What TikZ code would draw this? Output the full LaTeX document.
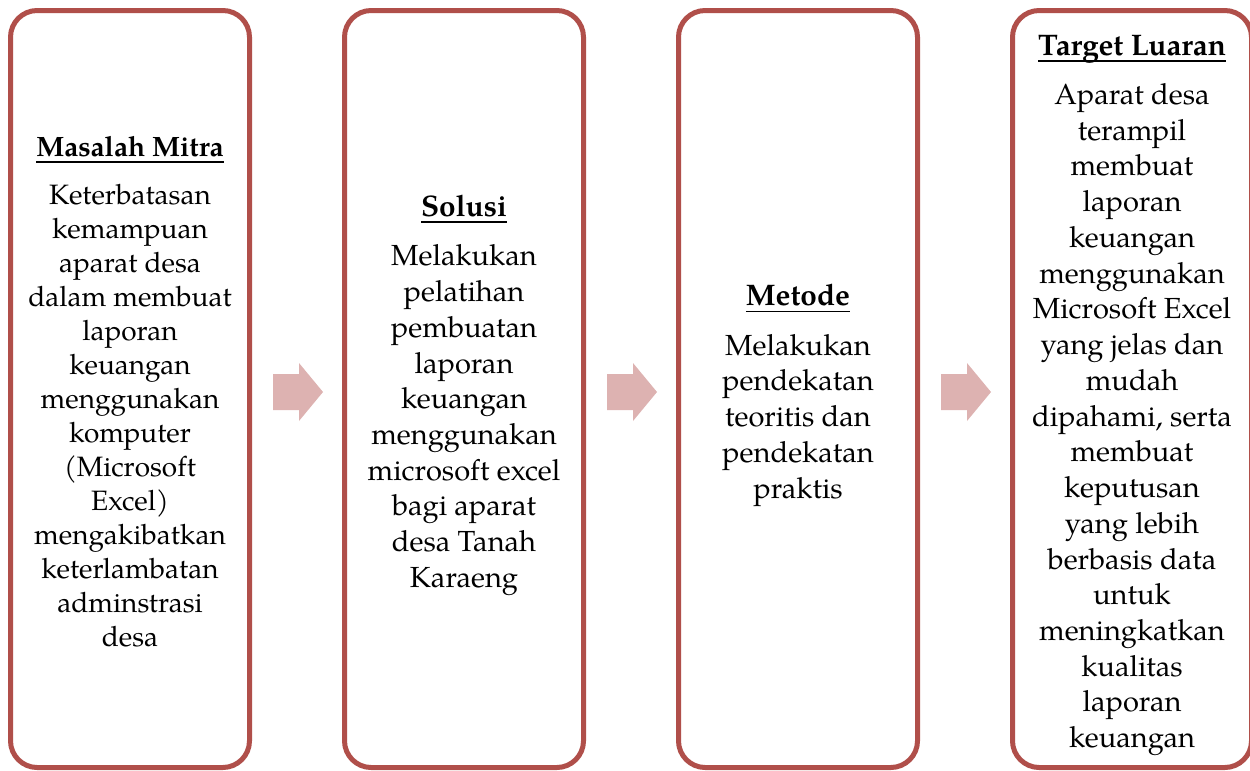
\documentclass[tikz,border=0pt]{standalone}
\usepackage{fontspec}
\setmainfont{texgyrepagella}[Extension=.otf, UprightFont=*-regular, BoldFont=*-bold, ItalicFont=*-italic, BoldItalicFont=*-bolditalic]
\definecolor{boxred}{RGB}{176,79,74}
\definecolor{arrowpink}{RGB}{221,178,177}
\newcommand\myul[1]{\setbox0\hbox{#1}\rlap{\rule[-4.9pt]{\wd0}{1.2pt}}\box0}
\newcommand\headgap{\\[11pt]}
\newcommand\bigheadgap{\\[10.2pt]}
\tikzset{
  stepbox/.style={draw=boxred, line width=3.75pt, rounded corners=20pt, fill=white,
    minimum width=179.25pt, minimum height=567.75pt, inner sep=0pt},
  boxtext/.style={inner sep=0pt, align=center, font=\fontsize{21}{25.5}\selectfont},
  bigtext/.style={inner sep=0pt, align=center, font=\fontsize{21.8}{26.8}\selectfont},
  blockarrow/.style={fill=arrowpink, draw=none}
}
\newcommand\bighead[1]{{\fontsize{22.3}{26.8}\selectfont\myul{\bfseries #1}}}
\newcommand\drawblockarrow[1]{%
  \fill[blockarrow] (#1) ++(0,-18) -- ++(26,0) -- ++(0,-11) -- ++(24,29) -- ++(-24,29) -- ++(0,-11) -- ++(-26,0) -- cycle;}
\begin{document}
\begin{tikzpicture}[x=0.75pt,y=-0.75pt]
\useasboundingbox (0,0) rectangle (1250,771);
\node[stepbox] (b1) at (130,389) {};
\node[stepbox] (b2) at (464,389) {};
\node[stepbox] (b3) at (798,389) {};
\node[stepbox] (b4) at (1132,389) {};
\node[boxtext, yshift=-2pt] (t1) at (b1.center) {\myul{\bfseries Masalah Mitra}\headgap
Keterbatasan\\ kemampuan\\ aparat desa\\ dalam membuat\\ laporan\\ keuangan\\ menggunakan\\ komputer\\ (Microsoft\\ Excel)\\ mengakibatkan\\ keterlambatan\\ adminstrasi\\ desa};
\node[bigtext, yshift=-4.8pt] (t2) at (b2.center) {\bighead{Solusi}\bigheadgap
Melakukan\\ pelatihan\\ pembuatan\\ laporan\\ keuangan\\ menggunakan\\ microsoft excel\\ bagi aparat\\ desa Tanah\\ Karaeng};
\node[bigtext, yshift=-4.8pt] (t3) at (b3.center) {\bighead{Metode}\bigheadgap
Melakukan\\ pendekatan\\ teoritis dan\\ pendekatan\\ praktis};
\node[bigtext, yshift=-4.8pt] (t4) at (b4.center) {\bighead{Target Luaran}\bigheadgap
Aparat desa\\ terampil\\ membuat\\ laporan\\ keuangan\\ menggunakan\\ Microsoft Excel\\ yang jelas dan\\ mudah\\ dipahami, serta\\ membuat\\ keputusan\\ yang lebih\\ berbasis data\\ untuk\\ meningkatkan\\ kualitas\\ laporan\\ keuangan};
\coordinate (a1) at (273,392);
\coordinate (a2) at (607,392);
\coordinate (a3) at (941,392);
\drawblockarrow{a1}
\drawblockarrow{a2}
\drawblockarrow{a3}
\end{tikzpicture}
\end{document}
